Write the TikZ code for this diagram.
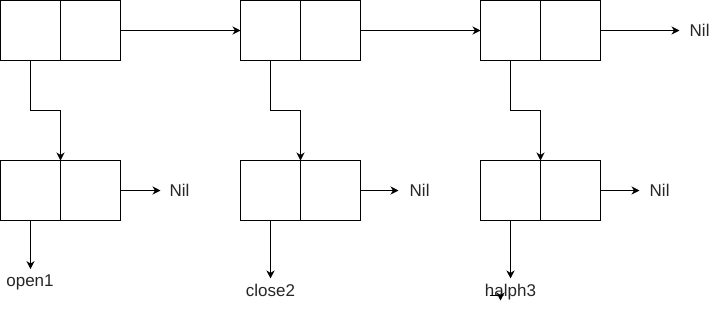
\documentclass[tikz,border=0pt]{standalone}
\usepackage{fontspec}
\setmainfont{Liberation Sans}
\usetikzlibrary{arrows.meta}

\begin{document}
\begin{tikzpicture}[x=1pt,y=-1pt,
  cell/.style={draw, line width=1pt, minimum width=60pt, minimum height=60pt, inner sep=0pt, outer sep=0pt},
  link/.style={line width=1pt, -{Stealth[length=8pt,width=8pt,inset=2.5pt]}},
  lbl/.style={font=\fontsize{17}{20}\selectfont, text=black!85, inner sep=0pt}]
\useasboundingbox (-0.5,-0.5) rectangle (720.5,308.5);
% top row
\node[cell] (t1a) at (30,30) {};
\node[cell] (t1b) at (90,30) {};
\node[cell] (t2a) at (270,30) {};
\node[cell] (t2b) at (330,30) {};
\node[cell] (t3a) at (510,30) {};
\node[cell] (t3b) at (570,30) {};
\node[lbl, anchor=west] (nil0) at (689,30) {Nil};
% bottom row
\node[cell] (b1a) at (30,190) {};
\node[cell] (b1b) at (90,190) {};
\node[cell] (b2a) at (270,190) {};
\node[cell] (b2b) at (330,190) {};
\node[cell] (b3a) at (510,190) {};
\node[cell] (b3b) at (570,190) {};
\node[lbl, anchor=west] (nil1) at (169,190) {Nil};
\node[lbl, anchor=west] (nil2) at (409,190) {Nil};
\node[lbl, anchor=west] (nil3) at (649,190) {Nil};
% atoms
\node[lbl, anchor=base] (open1) at (29.5,286) {open1};
\node[lbl, anchor=base] (close2) at (270,296) {close2};
\node[lbl, anchor=base] (halph3) at (510,296) {halph3};
\coordinate (stubA) at (489,295);
\coordinate (stubB) at (500,300);

\draw[link] (t1b.east) -- (t2a.west);
\draw[link] (t2b.east) -- (t3a.west);
\draw[link, shorten >=10pt] (t3b.east) -- (nil0.west);
\draw[link] (t1a.south) -- ++(0,50) -| (b1a.north east);
\draw[link] (t2a.south) -- ++(0,50) -| (b2a.north east);
\draw[link] (t3a.south) -- ++(0,50) -| (b3a.north east);
\draw[link, shorten >=9pt] (b1b.east) -- (nil1.west);
\draw[link, shorten >=11pt] (b2b.east) -- (nil2.west);
\draw[link, shorten >=10pt] (b3b.east) -- (nil3.west);
\draw[link, shorten >=5.5pt] (b1a.south) -- (b1a.south |- open1.north);
\draw[link, shorten >=5.5pt] (b2a.south) -- (b2a.south |- close2.north);
\draw[link, shorten >=5.5pt] (b3a.south) -- (b3a.south |- halph3.north);
\draw[link] (stubA) -| (stubB);
\end{tikzpicture}
\end{document}
